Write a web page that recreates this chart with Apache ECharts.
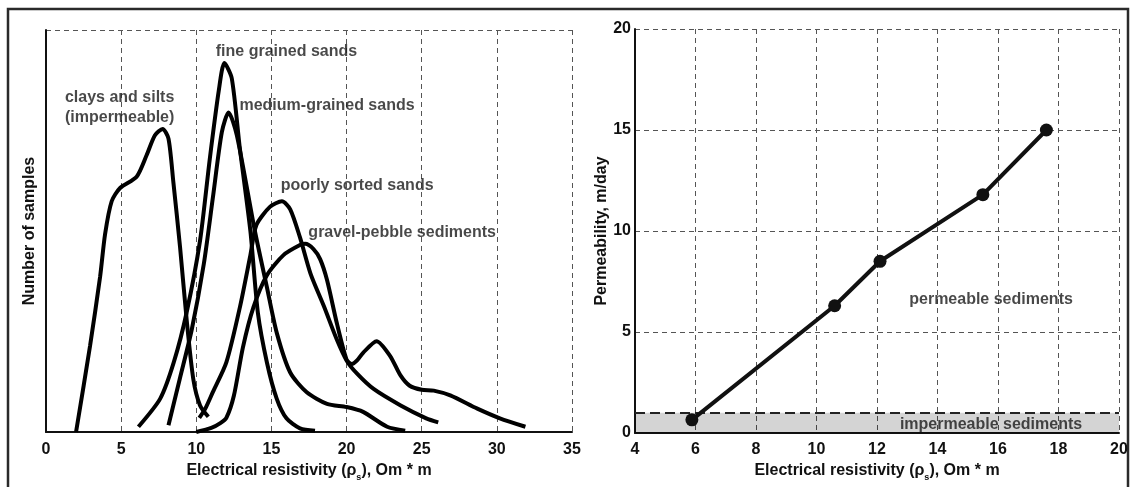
<!DOCTYPE html>
<html>
<head>
<meta charset="utf-8">
<script src="https://cdn.jsdelivr.net/npm/echarts@6/dist/echarts.min.js"></script>
<style>
  html, body { margin: 0; padding: 0; background: #fff; }
  #chart { width: 1132px; height: 487px; }
</style>
</head>
<body>
<div id="chart"></div>
<script>
// left panel: distribution curves [resistivity, number of samples]
const clays = [[2.0, 0], [2.93, 21.4], [3.6, 38.6], [3.93, 49.2], [4.37, 57.4], [4.93, 60.7], [6.03, 63.5], [6.7, 68.9], [7.25, 73.8], [7.76, 75.4], [8.15, 73], [8.47, 62.3], [8.92, 46], [9.36, 27.9], [9.8, 13.2], [10.25, 6.6], [10.8, 3.8]];
const fineSands = [[6.15, 1.3], [7.6, 8.3], [8.5, 17.3], [9.35, 29.6], [10.25, 47.6], [10.9, 68], [11.5, 85], [11.87, 91.8], [12.36, 88], [12.9, 70.5], [13.6, 50], [14.1, 29.6], [14.7, 17.3], [15.35, 8.3], [16.0, 3.4], [16.9, 0.9], [17.9, 0.3]];
const mediumSands = [[8.15, 1.7], [8.9, 13.2], [9.7, 25.5], [10.5, 41.8], [11.1, 58.2], [11.7, 74.6], [12.15, 79.5], [12.7, 73.8], [13.9, 50], [14.7, 36], [15.36, 24.6], [16.25, 14.8], [17.35, 9.9], [18.7, 7], [20.0, 6.2], [21.1, 5], [22.7, 1.3], [23.9, 0.3]];
const poorSands = [[10.2, 3.5], [10.6, 5.8], [11.1, 9.9], [12.0, 17.3], [12.9, 31], [13.6, 44], [14.0, 51.5], [14.9, 56], [15.7, 57.4], [16.25, 55.4], [16.9, 48.4], [17.6, 39.4], [18.5, 31.2], [19.35, 23], [20.0, 17.8], [20.7, 14.5], [21.8, 10.7], [23.6, 6.6], [25.3, 3.4], [26.1, 2.4]];
const gravel = [[10.0, 0], [11.0, 1], [11.6, 2.2], [12.0, 3.5], [12.5, 9], [13.1, 21], [13.8, 31], [14.7, 39], [15.8, 44], [16.9, 46.5], [17.25, 46.8], [17.8, 45.5], [18.24, 43], [18.7, 37.8], [19.35, 27.1], [20.0, 18], [20.35, 16.9], [20.7, 17.8], [21.1, 19.7], [22.0, 22.6], [22.9, 18.9], [23.6, 14], [24.2, 11.5], [25.0, 10.5], [25.8, 10.3], [26.9, 9.1], [28.7, 5.8], [30.2, 3.4], [31.9, 1.3]];

// curve captions, placed in data coords
const leftLabels = [
    [16.0, 94.6, 'fine grained sands'],
    [18.7, 81.1, 'medium-grained sands'],
    [4.9, 80.8, 'clays and silts\n(impermeable)'],
    [20.7, 61.4, 'poorly sorted sands'],
    [23.7, 49.6, 'gravel-pebble sediments']
];

// right panel: permeability vs resistivity
const resist = [5.88, 10.6, 12.1, 15.5, 17.6];
const permeability = [0.65, 6.3, 8.5, 11.8, 15.0];
const impermeableLimit = 1;
const rightLabels = [
    [15.77, 6.6, 'permeable sediments'],
    [15.77, 0.44, 'impermeable sediments']
];

const FONT = "'Liberation Sans Narrow', 'Arial Narrow', 'Liberation Sans', Arial, sans-serif";
const ink = '#111';
const gridDash = { type: [5, 4], color: '#555', width: 1 };

const axisName = {
    fontFamily: FONT, fontWeight: 'bold', fontSize: 16, color: ink,
    rich: { s: { fontFamily: FONT, fontWeight: 'bold', fontSize: 9, color: ink, verticalAlign: 'bottom', padding: [0, 0, -3, 0] } }
};
const tickLabel = { fontFamily: FONT, fontWeight: 'bold', fontSize: 16, color: ink };

function curve(pts) {
    return {
        type: 'line', xAxisIndex: 0, yAxisIndex: 0, data: pts,
        smooth: 0.25, symbol: 'none',
        lineStyle: { color: '#000', width: 4 }
    };
}

function captions(list, idx) {
    return {
        type: 'scatter', xAxisIndex: idx, yAxisIndex: idx, symbolSize: 0, silent: true, z: 10,
        data: list.map(l => ({ value: [l[0], l[1]], name: l[2] })),
        label: {
            show: true, position: 'inside', formatter: p => p.name,
            fontFamily: FONT, fontWeight: 'bold', fontSize: 16, color: '#1a1a1a', lineHeight: 20
        }
    };
}

const chart = echarts.init(document.getElementById('chart'));
chart.setOption({
    animation: false,
    backgroundColor: '#fff',
    graphic: [{
        type: 'rect', silent: true,
        shape: { x: 8, y: 9, width: 1120, height: 482 },
        style: { fill: 'none', stroke: '#2a2a2a', lineWidth: 2.5 }
    }],
    grid: [
        { left: 46, top: 30, width: 526, height: 407 },
        { left: 635, top: 29, width: 484, height: 409 }
    ],
    xAxis: [
        {
            gridIndex: 0, type: 'value', min: 0, max: 35, interval: 5,
            name: 'Electrical resistivity (ρ{s|s}), Om * m', nameLocation: 'middle', nameGap: 31,
            nameTextStyle: axisName,
            axisLine: { lineStyle: { color: ink, width: 2 } },
            axisTick: { show: false },
            axisLabel: Object.assign({ margin: 10 }, tickLabel),
            splitLine: { show: true, lineStyle: gridDash }
        },
        {
            gridIndex: 1, type: 'value', min: 4, max: 20, interval: 2,
            name: 'Electrical resistivity (ρ{s|s}), Om * m', nameLocation: 'middle', nameGap: 30,
            nameTextStyle: axisName,
            axisLine: { lineStyle: { color: ink, width: 2 } },
            axisTick: { show: false },
            axisLabel: Object.assign({ margin: 9 }, tickLabel),
            splitLine: { show: true, lineStyle: gridDash }
        }
    ],
    yAxis: [
        {
            gridIndex: 0, type: 'value', min: 0, max: 100, interval: 100,
            name: 'Number of samples', nameLocation: 'middle', nameGap: 8, nameRotate: 90,
            nameTextStyle: axisName,
            axisLine: { show: true, lineStyle: { color: ink, width: 2 } },
            axisTick: { show: false },
            axisLabel: { show: false },
            splitLine: { show: true, lineStyle: gridDash }
        },
        {
            gridIndex: 1, type: 'value', min: 0, max: 20, interval: 5,
            name: 'Permeability, m/day', nameLocation: 'middle', nameGap: 24, nameRotate: 90,
            nameTextStyle: axisName,
            axisLine: { show: true, lineStyle: { color: ink, width: 2 } },
            axisTick: { show: false },
            axisLabel: Object.assign({ margin: 4 }, tickLabel),
            splitLine: { show: true, lineStyle: gridDash }
        }
    ],
    series: [
        curve(clays),
        curve(fineSands),
        curve(mediumSands),
        curve(poorSands),
        curve(gravel),
        captions(leftLabels, 0),
        {
            type: 'line', xAxisIndex: 1, yAxisIndex: 1,
            data: resist.map((r, i) => [r, permeability[i]]),
            symbol: 'circle', symbolSize: 13,
            itemStyle: { color: '#111' },
            lineStyle: { color: '#111', width: 4 },
            z: 5,
            markArea: {
                silent: true,
                itemStyle: { color: 'rgba(0,0,0,0.17)' },
                data: [[{ yAxis: 0 }, { yAxis: impermeableLimit }]]
            },
            markLine: {
                silent: true, symbol: 'none', label: { show: false },
                lineStyle: { color: '#222', width: 2, type: [10, 5] },
                data: [{ yAxis: impermeableLimit }]
            }
        },
        captions(rightLabels, 1)
    ]
});
</script>
</body>
</html>
